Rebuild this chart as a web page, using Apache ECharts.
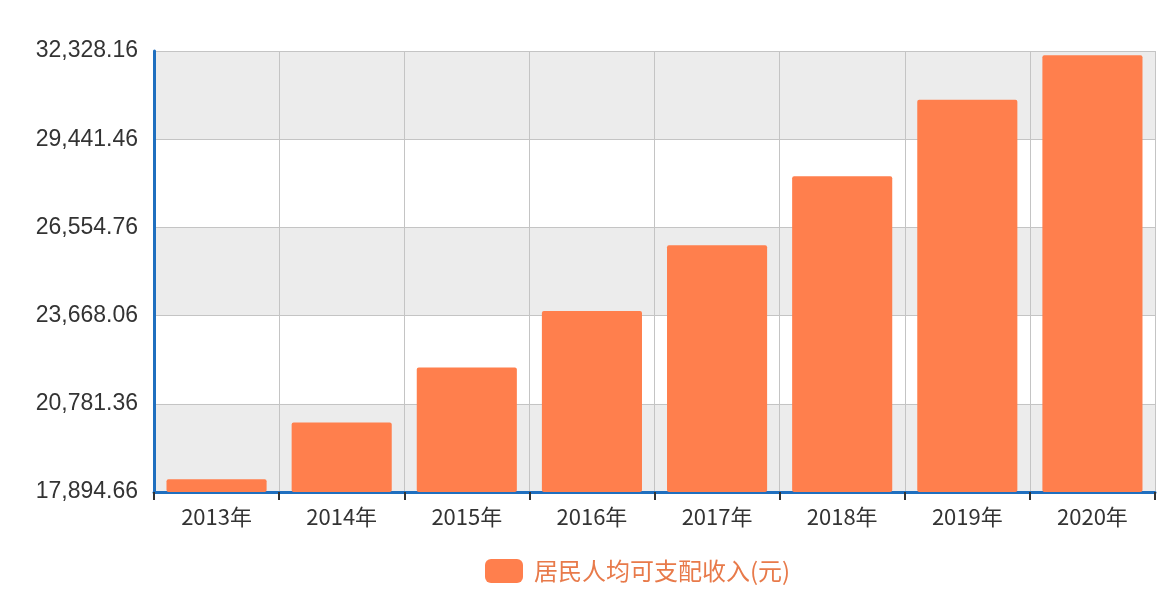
<!DOCTYPE html>
<html><head><meta charset="utf-8">
<script src="https://cdn.jsdelivr.net/npm/echarts@6/dist/echarts.min.js"></script>
<style>html,body{margin:0;padding:0;background:#fff}#c{width:1174px;height:596px}</style>
</head><body><div id="c"></div>
<script>
const categories = ['2013年','2014年','2015年','2016年','2017年','2018年','2019年','2020年'];
const seriesName = '居民人均可支配收入(元)';
const incomeValues = [18311, 20167, 21966, 23821, 25974, 28228, 30733, 32189];
const yMin = 17894.66;
const yMax = 32328.16;
const yInterval = 2886.7;

const chart = echarts.init(document.getElementById('c'));
chart.setOption({
  animation: false,
  backgroundColor: '#fff',
  grid: { left: 154, right: 19, top: 51, bottom: 104 },
  legend: {
    bottom: 8, left: 480,
    itemWidth: 38, itemHeight: 24, itemGap: 10,
    icon: 'roundRect',
    textStyle: { fontSize: 24, color: '#e87a4a', fontFamily: 'Noto Sans CJK SC', padding: [0, 0, 0, 6] },
    data: [seriesName]
  },
  xAxis: {
    type: 'category',
    data: categories,
    axisLine: { lineStyle: { color: '#1f6fbf', width: 3 } },
    axisTick: { show: true, length: 8, lineStyle: { color: '#333', width: 2 } },
    axisLabel: { fontSize: 22, color: '#333', margin: 14, fontFamily: 'Noto Sans CJK SC' },
    splitLine: { show: true, lineStyle: { color: '#c4c4c4', width: 1 } }
  },
  yAxis: {
    type: 'value',
    min: yMin, max: yMax, interval: yInterval,
    axisLine: { show: true, lineStyle: { color: '#1f6fbf', width: 3 } },
    axisTick: { show: false },
    axisLabel: {
      fontSize: 23, color: '#333', margin: 16, fontFamily: 'Liberation Sans',
      formatter: v => v.toLocaleString('en-US', { minimumFractionDigits: 2, maximumFractionDigits: 2 })
    },
    splitLine: { show: true, lineStyle: { color: '#c4c4c4', width: 1 } },
    splitArea: { show: true, areaStyle: { color: ['#ececec', '#ffffff'] } }
  },
  series: [{
    name: seriesName,
    type: 'bar',
    data: incomeValues,
    barWidth: '80%',
    itemStyle: { color: '#ff7f4d', borderRadius: 2 }
  }]
});
</script></body></html>
